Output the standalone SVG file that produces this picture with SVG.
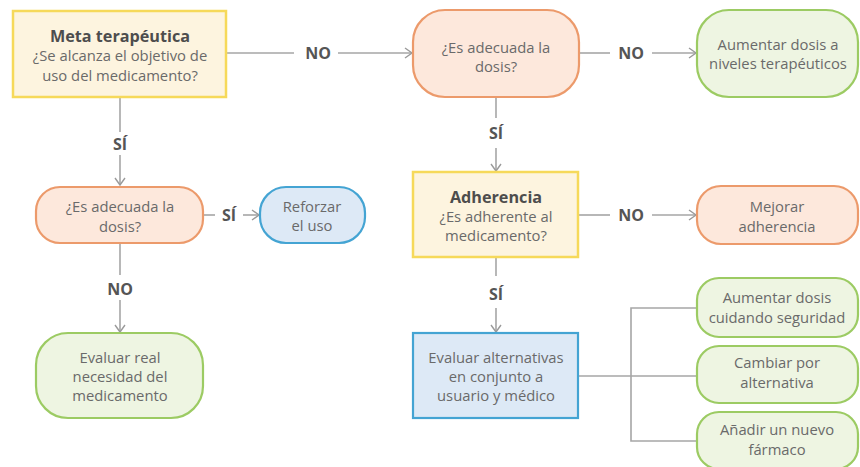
<svg xmlns="http://www.w3.org/2000/svg" width="860" height="467" viewBox="0 0 860 467">
<defs>
<marker id="arr" markerUnits="userSpaceOnUse" markerWidth="12" markerHeight="12" refX="9" refY="6" orient="auto">
<path d="M2,1 L9,6 L2,11" fill="none" stroke="#9a9a9a" stroke-width="1.4"/>
</marker>
<style>
.ln{fill:none;stroke:#a6a6a6;stroke-width:1.6}
.lb{font-family:"Open Sans","Liberation Sans",sans-serif;font-weight:bold;font-size:16px;fill:#555;text-anchor:middle}
.t{font-family:"Open Sans","Liberation Sans",sans-serif;font-size:14.8px;fill:#6a6a6a;text-anchor:middle}
.h{font-family:"Open Sans","Liberation Sans",sans-serif;font-size:16.2px;font-weight:bold;fill:#4d4d4d;text-anchor:middle}
.yel{fill:#fdf4df;stroke:#f6d95a;stroke-width:2.5}
.org{fill:#fde8dc;stroke:#ec9a6b;stroke-width:2.2}
.grn{fill:#eef5e2;stroke:#9ccb63;stroke-width:2.2}
.blu{fill:#dde9f6;stroke:#44a4d3;stroke-width:2.2}
</style>
</defs>
<rect width="860" height="467" fill="#ffffff"/>

<g id="connectors">
<line class="ln" x1="226" y1="53" x2="294" y2="53"/>
<line class="ln" x1="338" y1="53" x2="412" y2="53" marker-end="url(#arr)"/>
<line class="ln" x1="579" y1="53" x2="610" y2="53"/>
<line class="ln" x1="652" y1="53" x2="696" y2="53" marker-end="url(#arr)"/>
<line class="ln" x1="496" y1="97" x2="496" y2="118"/>
<line class="ln" x1="496" y1="148" x2="496" y2="171" marker-end="url(#arr)"/>
<line class="ln" x1="578" y1="215" x2="610" y2="215"/>
<line class="ln" x1="652" y1="215" x2="696" y2="215" marker-end="url(#arr)"/>
<line class="ln" x1="496" y1="257" x2="496" y2="276"/>
<line class="ln" x1="496" y1="308" x2="496" y2="332" marker-end="url(#arr)"/>
<line class="ln" x1="578" y1="376" x2="631" y2="376"/>
<polyline class="ln" points="697,308 631,308 631,441 697,441"/>
<line class="ln" x1="631" y1="376" x2="697" y2="376"/>
<line class="ln" x1="120" y1="97" x2="120" y2="132"/>
<line class="ln" x1="120" y1="155" x2="120" y2="185" marker-end="url(#arr)"/>
<line class="ln" x1="203" y1="215" x2="215" y2="215"/>
<line class="ln" x1="243" y1="215" x2="259" y2="215" marker-end="url(#arr)"/>
<line class="ln" x1="120" y1="243" x2="120" y2="275"/>
<line class="ln" x1="120" y1="300" x2="120" y2="332" marker-end="url(#arr)"/>
<text class="lb" x="318" y="59">NO</text>
<text class="lb" x="631" y="59">NO</text>
<text class="lb" x="496" y="139">SÍ</text>
<text class="lb" x="631" y="221">NO</text>
<text class="lb" x="496" y="300">SÍ</text>
<text class="lb" x="120" y="150">SÍ</text>
<text class="lb" x="229" y="221">SÍ</text>
<text class="lb" x="120" y="295">NO</text>
</g>

<g id="meta">
<rect class="yel" x="13" y="11" width="213" height="86"/>
<text class="h" x="120" y="42">Meta terapéutica</text>
<text class="t" x="120" y="61">¿Se alcanza el objetivo de</text>
<text class="t" x="120" y="81">uso del medicamento?</text>
</g>

<g id="dosis1">
<rect class="org" x="413" y="10" width="166" height="87" rx="32"/>
<text class="t" x="496" y="53">¿Es adecuada la</text>
<text class="t" x="496" y="72">dosis?</text>
</g>

<g id="aumentar">
<rect class="grn" x="697" y="10" width="161" height="87" rx="32"/>
<text class="t" x="778" y="50">Aumentar dosis a</text>
<text class="t" x="778" y="69">niveles terapéuticos</text>
</g>

<g id="adherencia">
<rect class="yel" x="413" y="172" width="165" height="85"/>
<text class="h" x="496" y="203">Adherencia</text>
<text class="t" x="496" y="222">¿Es adherente al</text>
<text class="t" x="496" y="241">medicamento?</text>
</g>

<g id="mejorar">
<rect class="org" x="697" y="186" width="161" height="58" rx="24"/>
<text class="t" x="777" y="212">Mejorar</text>
<text class="t" x="777" y="232">adherencia</text>
</g>

<g id="alternativas">
<rect class="blu" x="413" y="333" width="165" height="85"/>
<text class="t" x="496" y="363">Evaluar alternativas</text>
<text class="t" x="496" y="382">en conjunto a</text>
<text class="t" x="496" y="401">usuario y médico</text>
</g>

<g id="seguridad">
<rect class="grn" x="697" y="278" width="161" height="59" rx="22"/>
<text class="t" x="777" y="303">Aumentar dosis</text>
<text class="t" x="777" y="323">cuidando seguridad</text>
</g>

<g id="cambiar">
<rect class="grn" x="697" y="346" width="161" height="57" rx="22"/>
<text class="t" x="777" y="368">Cambiar por</text>
<text class="t" x="777" y="388">alternativa</text>
</g>

<g id="anadir">
<rect class="grn" x="697" y="412" width="161" height="57" rx="22"/>
<text class="t" x="777" y="435">Añadir un nuevo</text>
<text class="t" x="777" y="455">fármaco</text>
</g>

<g id="dosis2">
<rect class="org" x="36" y="187" width="167" height="56" rx="24"/>
<text class="t" x="120" y="212">¿Es adecuada la</text>
<text class="t" x="120" y="232">dosis?</text>
</g>

<g id="reforzar">
<rect class="blu" x="260" y="187" width="105" height="56" rx="26"/>
<text class="t" x="312" y="212">Reforzar</text>
<text class="t" x="312" y="231">el uso</text>
</g>

<g id="evaluar">
<rect class="grn" x="36" y="333" width="167" height="85" rx="32"/>
<text class="t" x="120" y="363">Evaluar real</text>
<text class="t" x="120" y="382">necesidad del</text>
<text class="t" x="120" y="401">medicamento</text>
</g>
</svg>
